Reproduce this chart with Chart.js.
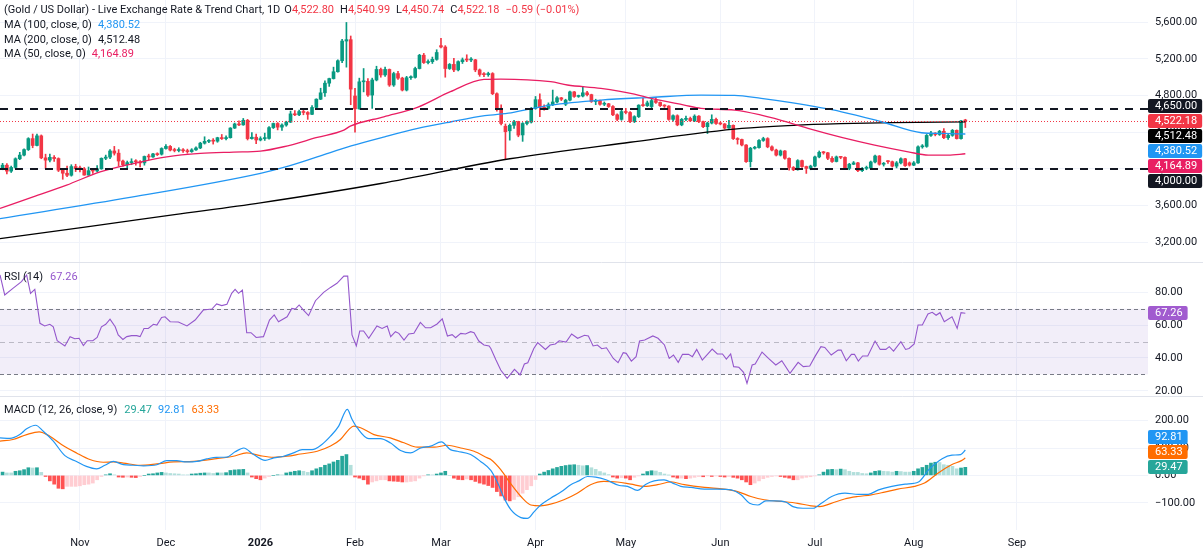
<!DOCTYPE html>
<html>
<head>
<meta charset="utf-8">
<script src="https://cdn.jsdelivr.net/npm/chart.js@4.4.1/dist/chart.umd.min.js"></script>
<style>
html,body{margin:0;padding:0;background:#fff;overflow:hidden}
#wrap{position:relative;width:1203px;height:552px;font-family:Roboto,"Noto Sans",sans-serif}
canvas{position:absolute;left:0}
.leg{position:absolute;left:4px;font-size:11px;line-height:14px;color:#131722;white-space:pre;z-index:5}
</style>
</head>
<body>
<div id="wrap">
<canvas id="c1" width="1203" height="262" style="top:0"></canvas>
<canvas id="c2" width="1203" height="134" style="top:262px"></canvas>
<canvas id="c3" width="1203" height="156" style="top:396px"></canvas>
<div class="leg" id="leg1" style="top:3px"></div>
<div class="leg" id="leg2" style="top:18px"></div>
<div class="leg" id="leg3" style="top:33px"></div>
<div class="leg" id="leg4" style="top:47px"></div>
<div class="leg" id="leg5" style="top:270px"></div>
<div class="leg" id="leg6" style="top:403px"></div>
</div>
<script>
// ---------------- DATA ----------------
const titleText = '(Gold / US Dollar) - Live Exchange Rate & Trend Chart, 1D';
const changeText = '\u22120.59 (\u22120.01%)';

const opens = [4010,4040,3975,4015,4110,4150,4210,4330,4255,4360,
4120,4095,4125,4112,3985,3952,3930,4025,4002,4000,
3932,3980,3977,4000,4115,4128,4195,4171,4085,4045,
4068,4078,4077,4065,4135,4130,4163,4160,4222,4245,
4205,4200,4208,4197,4188,4207,4228,4280,4300,4305,
4302,4340,4330,4340,4445,4490,4480,4530,4330,4345,
4315,4330,4332,4450,4495,4455,4478,4510,4600,4590,
4625,4615,4595,4670,4760,4830,4935,4985,5060,5180,
5395,5410,4795,4655,4950,4955,4805,4970,5085,5025,
5085,4915,5040,4990,4860,4995,4998,5095,5240,5160,
5170,5195,5345,5330,5095,5140,5080,5170,5190,5188,
5190,5080,5030,5028,5040,4820,4650,4465,4415,4475,
4515,4370,4495,4510,4660,4755,4670,4660,4700,4730,
4775,4705,4750,4840,4790,4795,4830,4810,4735,4745,
4705,4710,4680,4590,4540,4625,4615,4515,4570,4695,
4690,4680,4745,4725,4690,4685,4540,4580,4480,4540,
4550,4525,4575,4515,4460,4500,4540,4495,4490,4445,
4475,4330,4320,4260,4078,4225,4232,4310,4330,4240,
4205,4150,4195,4115,4015,3990,4090,4025,4005,4030,
4130,4180,4175,4115,4080,4130,4125,4005,4050,4065,
3980,4005,4008,4075,4140,4050,4085,4078,4030,4065,
4110,4065,4040,4065,4240,4245,4365,4390,4375,4410,
4340,4365,4420,4330,4522.80];

const highs = [4060,4058,4030,4120,4180,4218,4340,4380,4380,4370,
4160,4160,4145,4120,4000,4030,4045,4050,4030,4015,
4020,4000,4035,4120,4150,4210,4245,4210,4095,4085,
4110,4100,4090,4140,4160,4170,4175,4230,4265,4255,
4225,4230,4220,4215,4220,4240,4290,4350,4320,4330,
4345,4375,4360,4450,4500,4525,4550,4540,4395,4380,
4350,4390,4460,4500,4505,4490,4520,4630,4635,4640,
4645,4625,4690,4765,4880,4960,4990,5110,5190,5415,
5598,5450,4880,4990,5095,4985,4990,5120,5100,5110,
5090,5055,5065,5000,5010,5015,5110,5250,5260,5190,
5220,5300,5425,5345,5150,5205,5180,5210,5245,5215,
5195,5090,5050,5055,5050,4830,4700,4490,4490,4530,
4520,4505,4525,4670,4790,4820,4700,4720,4860,4790,
4780,4760,4850,4845,4805,4900,4845,4815,4760,4750,
4730,4715,4690,4600,4640,4660,4625,4580,4700,4770,
4740,4760,4780,4730,4700,4690,4590,4590,4550,4575,
4565,4590,4580,4520,4510,4590,4555,4510,4495,4530,
4480,4340,4325,4265,4235,4245,4320,4345,4340,4250,
4215,4205,4200,4120,4025,4100,4095,4030,4040,4140,
4195,4190,4180,4135,4140,4135,4130,4060,4080,4070,
4015,4030,4085,4150,4145,4070,4090,4085,4080,4120,
4115,4075,4080,4250,4265,4375,4410,4395,4420,4440,
4380,4430,4425,4530,4540.99];

const lows = [3990,3945,3960,4005,4100,4140,4200,4230,4250,4110,
4005,4075,4080,3970,3886,3915,3920,3970,3965,3930,
3930,3950,3965,3995,4100,4110,4150,4030,4030,4010,
4045,4040,4020,4040,4100,4125,4145,4150,4215,4195,
4185,4185,4180,4170,4180,4200,4220,4270,4285,4270,
4290,4320,4315,4335,4440,4470,4475,4315,4325,4275,
4305,4310,4325,4440,4425,4420,4465,4505,4580,4580,
4590,4540,4590,4660,4755,4790,4900,4980,5055,5160,
5110,4700,4400,4650,4840,4790,4660,4960,5000,5010,
4900,4900,4975,4850,4850,4975,4990,5090,5150,5145,
5150,5185,5320,5000,5085,5060,5070,5150,5170,5170,
5060,5010,5005,5010,4810,4630,4480,4102,4313,4440,
4350,4300,4480,4500,4650,4570,4640,4650,4690,4720,
4745,4690,4740,4780,4780,4785,4795,4725,4700,4695,
4690,4670,4580,4525,4530,4600,4505,4505,4560,4680,
4680,4660,4715,4680,4670,4530,4520,4470,4470,4525,
4515,4515,4505,4450,4385,4490,4485,4480,4435,4440,
4320,4270,4250,4070,4020,4215,4225,4300,4230,4195,
4140,4140,4105,3985,3980,3985,4015,3950,3990,4020,
4120,4160,4100,4070,4075,4110,3995,3990,4045,3970,
3970,3990,3995,4065,4040,4030,4060,4020,4010,4055,
4025,4030,4035,4060,4225,4235,4355,4360,4365,4330,
4320,4355,4325,4325,4450.74];

const closes = [4040,3975,4015,4110,4150,4210,4330,4255,4360,4120,
4095,4125,4112,3985,3952,3930,4025,4002,4000,3932,
3980,3977,4000,4115,4128,4195,4171,4085,4045,4068,
4078,4077,4065,4135,4130,4163,4155,4222,4245,4205,
4200,4208,4197,4188,4207,4228,4280,4300,4305,4302,
4340,4330,4340,4445,4490,4480,4530,4330,4345,4315,
4330,4332,4450,4495,4455,4478,4510,4600,4590,4625,
4615,4595,4670,4760,4830,4935,4985,5060,5180,5395,
5410,4870,4655,4950,4955,4805,4970,5085,5025,5085,
4915,5040,4990,4860,4995,4998,5095,5240,5160,5170,
5195,5270,5330,5095,5140,5080,5170,5190,5188,5190,
5080,5030,5028,5040,4820,4650,4495,4405,4475,4515,
4368,4495,4510,4660,4755,4670,4660,4700,4730,4775,
4760,4750,4840,4790,4795,4830,4810,4735,4745,4705,
4710,4680,4590,4540,4625,4615,4515,4570,4695,4690,
4720,4745,4725,4690,4685,4540,4580,4480,4540,4550,
4525,4575,4515,4460,4500,4540,4495,4490,4445,4475,
4330,4320,4260,4078,4225,4232,4310,4330,4240,4205,
4150,4195,4115,4015,3990,4090,4025,4005,4030,4130,
4180,4175,4115,4080,4130,4125,4005,4050,4065,3980,
4005,4008,4075,4140,4050,4055,4078,4030,4065,4110,
4035,4040,4065,4240,4245,4365,4390,4375,4410,4340,
4365,4420,4330,4522.80,4522.18];

// month ticks (bar index of first session of each month)
const monthTickIndex = [18, 38, 60, 82, 102, 124, 145, 167, 189, 212, 236];
const monthTickLabels = ['Nov','Dec','2026','Feb','Mar','Apr','May','Jun','Jul','Aug','Sep'];

// price-axis, RSI-axis and MACD-axis tick values
const priceTicks = [3200, 3600, 4000, 4400, 4800, 5200, 5600];
const rsiTicks = [20, 40, 60, 80];
const macdTicks = [-100, 0, 100, 200];

// moving averages: [bar index, value]
const ma50Pts = [[-0.6,3567],[7.1,3694],[14.9,3822],[22.7,3967],[30.4,4058],[38.2,4131],[46,4168],[53.7,4182],[60,4193],[65.4,4241],[73.2,4343],[79.4,4423],[80.9,4466],[88.7,4568],[96.5,4670],[104.2,4842],[112,4977],[115.9,4980],[127.5,4951],[131.4,4915],[139.2,4878],[147,4816],[150.9,4769],[158.6,4696],[162.5,4660],[170.3,4641],[176.5,4587],[179.6,4550],[187.4,4441],[195.2,4343],[202.9,4259],[210.7,4186],[215.4,4150],[220,4150],[224,4164.89]];
const ma100Pts = [[-0.6,3457],[30,3690],[60,3950],[65.4,4015],[73.2,4130],[81.1,4250],[88.9,4350],[96.6,4441],[104.4,4514],[112.2,4580],[118.3,4612],[127.5,4696],[139.2,4751],[150.9,4780],[162.5,4805],[170.3,4802],[176.5,4769],[183.5,4722],[195.2,4623],[204.5,4514],[213.8,4394],[218.5,4386],[224,4380.52]];
const ma200Pts = [[-0.6,3239],[20,3370],[40,3500],[60,3629],[88,3840],[118,4110],[146,4290],[172,4441],[184,4475],[195,4493],[207,4505],[224,4512.48]];

// RSI (14)
const rsiPts = [[-0.6,90.6],[0.5,78.4],[2.4,82.4],[4.4,86.5],[5.6,90.6],[6.5,79.4],[7.5,81.8],[8.7,61.1],[9.8,59.5],[11,60.5],[11.8,59],[12.7,50.5],[14.5,47.3],[15.7,53],[16.8,51.7],[17.8,52],[18.8,47.5],[19.7,50.5],[21,50.5],[22,52.5],[23,59],[24,60.5],[25,63.7],[26.2,59],[26.9,54],[28,51.3],[28.9,53],[30,53.6],[31.2,53.6],[32,53],[32.9,58],[33.9,58],[35.1,60.5],[35.9,60],[37,64.7],[37.8,65.1],[39,62.1],[40.9,61.9],[42.9,59.5],[44.8,63.1],[46.7,69.2],[48.7,69.8],[49.8,72.9],[51,71.9],[52.2,72.7],[53.3,79.4],[54.1,81.8],[54.9,79.4],[55.8,81.4],[56.8,55.4],[57.8,55.4],[59,52.5],[60.7,53],[62.1,63.1],[63.2,66.2],[64.2,62.1],[66.2,65.1],[67.3,70.2],[68.1,69.8],[69,72.3],[70,69.2],[71.2,65.8],[72.8,74.9],[74.7,80],[76.3,83],[77.8,85.5],[79.4,89.9],[80.3,89.9],[81.3,54],[82.3,47.3],[83.1,56.4],[84,56.4],[85.2,52],[87.1,59.5],[88.3,58],[89.5,59.5],[90.3,53],[91.4,56],[92.2,55],[93.4,50.9],[94.5,54.6],[95.7,55],[97.2,61.7],[98.4,58.4],[99.6,58.4],[101.1,60.7],[102.3,63.9],[103.5,53.4],[104.6,54.2],[105.4,52.3],[106.6,55],[107.7,54.6],[108.9,56],[109.7,55.4],[110.8,50.3],[112,47.9],[113.2,47.3],[113.6,45.8],[114.8,38.7],[115.9,32.6],[117.4,27.5],[119.1,33],[120.4,29.6],[121.4,36.3],[122.2,37.1],[123.6,45.8],[124.5,49.3],[126.3,45.2],[127.4,47.9],[128.6,48.5],[129.5,50.5],[131.1,49.7],[132.4,54.6],[133.8,52],[135.4,53.8],[136.3,53.4],[137.4,47.3],[138.4,47.9],[139.4,45.6],[140.5,46.2],[142.1,39.7],[143.2,37.1],[144.4,43.2],[145.1,42.8],[146.3,38.1],[147.4,40.8],[148.2,50.3],[149.4,50.9],[151.3,53.4],[152.5,52],[154,47.9],[155.1,39.7],[156.1,41.8],[157.2,37.3],[158.2,42.2],[159.6,42.2],[160.5,40.8],[161.5,45.2],[162.8,38.7],[165.1,45.4],[166.3,42.4],[167.5,42.4],[168.4,39.3],[169.4,42.4],[170.1,34.7],[171.3,34.3],[172.4,31.2],[173.2,24.5],[174.4,35.7],[175.1,36.3],[176.7,43.6],[178.2,39.7],[179.9,35.7],[181.3,38.3],[183.2,30.6],[185.1,37.3],[186.3,34.7],[187.8,35.1],[189,40.8],[190.4,46.9],[191.3,46.4],[192.8,41.8],[194.4,44.8],[195.1,44.8],[196.3,38.3],[197.5,42.2],[198.2,42.2],[199.1,38.1],[200.1,41.2],[201.3,41.2],[203,50.3],[204.2,45.2],[205.5,45.2],[206.3,46.9],[207.3,44.2],[209,49.9],[210.1,45.2],[210.9,45.8],[212.1,48.5],[213,60.1],[214,60.1],[215.3,66.8],[216.3,67.8],[217.2,66],[218.1,67.6],[219.1,62.1],[220.9,65.1],[222.1,58],[223,67.6],[224,67.26]];
const rsiLevels = [70, 50, 30];

// MACD (12, 26, close, 9)
const macdPts = [[-0.6,137],[1.7,135],[4,149],[5.6,170],[7.7,183],[9.4,162],[11.8,125],[14.5,72],[17.2,51],[19.5,33],[21.9,24],[23.8,37],[25.8,51],[28.1,39],[30.4,37],[32.8,35],[35.9,39],[38.2,54],[40.5,54],[42.8,49],[45.2,51],[47.5,60],[49.8,66],[52.2,67],[54.1,86],[56.1,100],[58.4,76],[61.1,55],[63.1,64],[65.4,70],[67.7,82],[69.7,94],[72,94],[74.3,113],[76.3,143],[78.2,180],[80.2,241],[81.3,205],[82.5,174],[85.2,134],[87.9,134],[90.2,119],[92.6,91],[94.9,82],[97.3,100],[99.6,107],[102.1,122],[104.2,94],[105.8,88],[108.9,76],[111.2,51],[113.6,18],[115.2,-28],[116.7,-83],[118.3,-126],[120.6,-154],[122.1,-157],[123.7,-132],[125.2,-108],[127.5,-83],[129.9,-61],[132.2,-34],[134.1,-20],[136.1,-4],[138,-6],[140.4,-16],[143.5,-37],[145.4,-40],[147.7,-55],[149.7,-32],[151.6,-20],[153.9,-16],[155.9,-28],[157.8,-40],[160.2,-44],[163.3,-50],[166.4,-50],[169.5,-53],[171.8,-71],[173.8,-102],[175.7,-108],[177.6,-93],[179.6,-93],[182.3,-98],[183.9,-114],[186.2,-120],[188.6,-120],[190.5,-102],[192.9,-77],[196,-65],[199.1,-69],[201.4,-69],[203.8,-53],[206.9,-40],[210,-32],[213.1,-24],[215.5,21],[218.6,61],[220.9,74],[222.9,76],[224,92.81]];
const signalPts = [[-0.6,125],[2.4,131],[5.6,149],[8.5,159],[11,143],[13.7,113],[17.2,82],[20.3,58],[23.4,48],[25.8,49],[28.1,45],[32,37],[35.9,42],[39.8,49],[44.4,51],[49.8,61],[53.7,70],[56.8,82],[59.9,72],[63.1,66],[66.2,70],[69.3,78],[73.2,88],[76.3,107],[78.6,131],[80.6,168],[81.7,180],[83.3,174],[86.4,149],[90.2,137],[93.4,119],[96.5,103],[100.4,103],[103.5,110],[106.6,100],[109.7,88],[112.8,64],[113.6,58],[115.9,21],[118.3,-32],[120.6,-77],[122.9,-108],[125.2,-111],[127.5,-105],[130.6,-89],[133.7,-65],[136.8,-34],[139.9,-22],[143,-24],[146.2,-32],[149.3,-40],[152.4,-34],[155.5,-24],[158.6,-34],[163.3,-44],[167.9,-50],[171,-59],[174.1,-77],[177.2,-89],[181.9,-96],[185,-102],[188.1,-111],[190.1,-114],[192.8,-102],[195.9,-86],[199,-77],[202.1,-71],[205.2,-61],[208.3,-50],[212.2,-40],[214.5,-28],[217.7,9],[220.8,39],[223.1,54],[224,63.33]];
const hist = [12,9,9,15,17,21,28,27,28,11,-4,
-20,-32,-47,-49,-40,-40,-40,-38,-34,-32,-28,-16,-4,
2,6,2,-6,-7,-6,-7,-8,-4,0,
5,6,9,11,9,7,6,5,2,2,
5,6,8,9,9,7,9,9,10,18,20,21,22,9,
-6,-12,-16,-10,-4,0,2,2,
9,12,15,17,15,11,17,24,29,37,42,49,55,70,76,37,
-6,-10,-16,-32,-24,-20,-16,-16,-20,-21,-22,-24,-24,-22,-20,-10,
-1,2,2,5,9,15,0,
-10,-15,-16,-13,-16,-22,-28,-32,-37,
-44,-59,-75,-90,-93,-88,-78,-65,-52,-38,-15,
5,12,18,24,29,33,36,38,39,37,35,36,28,22,14,9,3,
-6,-10,-8,-10,-16,-7,-2,
5,14,17,16,11,5,1,
-6,-10,-10,-12,-10,-7,-4,-5,-1,-4,-2,-4,-6,-4,-7,-10,-16,-24,-34,-28,-20,-12,-7,-4,-2,-4,-7,-10,-16,-16,-10,-7,-5,-2,
2,12,21,22,21,23,21,15,11,11,7,6,9,15,17,15,14,12,15,14,12,12,15,24,29,37,45,48,47,39,37,33,24,27,29.47];

const priceLevels = [4650, 4000];

// ---------------- STYLE / SETUP ----------------
const UP = '#089981', DOWN = '#F23645';
const GRID = '#F0F3FA';
const TXT = '#131722';
const XMIN = -0.6, XMAX = 266.5, AXW = 55;
const last = closes.length - 1;
const lastOf = p => p[p.length - 1][1];
const fmt2 = v => v.toLocaleString('en-US', {minimumFractionDigits: 2, maximumFractionDigits: 2}).replace('-', '\u2212');
const toXY = p => p.map(q => ({x: q[0], y: q[1]}));

Chart.defaults.font.family = 'Roboto';
Chart.defaults.font.size = 11;
Chart.defaults.color = TXT;

function xScale(showLabels) {
  return {
    type: 'linear', min: XMIN, max: XMAX, offset: false,
    grid: {color: GRID, drawTicks: false, offset: false},
    border: {display: false},
    afterBuildTicks: s => { s.ticks = monthTickIndex.map(v => ({value: v})); },
    ticks: {
      display: showLabels, autoSkip: false, maxRotation: 0, minRotation: 0, padding: 7, color: TXT,
      callback: v => monthTickLabels[monthTickIndex.indexOf(v)],
      font: c => ({size: 11, family: 'Roboto', weight: (c.index === 2) ? 'bold' : 'normal'})
    },
    afterFit: s => { s.height = showLabels ? 22 : 0; s.paddingLeft = 0; s.paddingRight = 0; }
  };
}
function yScale(min, max, tickVals) {
  return {
    type: 'linear', position: 'right', min: min, max: max, beginAtZero: false,
    grid: {color: GRID, drawTicks: false}, border: {display: false},
    afterBuildTicks: s => { s.ticks = tickVals.map(v => ({value: v})); },
    ticks: {autoSkip: false, padding: 7, color: TXT, callback: v => fmt2(v)},
    afterFit: s => { s.width = AXW; s.paddingTop = 0; s.paddingBottom = 0; }
  };
}
const baseOpts = {
  responsive: false, animation: false, events: [],
  layout: {padding: 0},
  plugins: {legend: {display: false}, tooltip: {enabled: false}}
};

function drawBoxes(chart, items, anchor) {
  const {ctx, chartArea} = chart;
  const scale = chart.scales.y;
  const STEP = 15, H = 14;
  const ys = items.map(it => scale.getPixelForValue(it.v));
  const order = items.map((_, i) => i).sort((a, b) => ys[a] - ys[b]);
  const p = order.indexOf(anchor);
  for (let k = p + 1; k < order.length; k++) { const a = order[k-1], b = order[k]; if (ys[b] < ys[a] + STEP) ys[b] = ys[a] + STEP; }
  for (let k = p - 1; k >= 0; k--) { const a = order[k+1], b = order[k]; if (ys[b] > ys[a] - STEP) ys[b] = ys[a] - STEP; }
  ctx.save();
  ctx.font = '11px Roboto';
  items.forEach((it, i) => {
    const txt = fmt2(it.v);
    const tx = chartArea.right + 7;
    const w = ctx.measureText(txt).width;
    const x0 = chartArea.right, bw = tx + w + 5 - x0;
    const y0 = Math.round(ys[i] - H / 2);
    ctx.fillStyle = it.bg;
    ctx.beginPath();
    if (ctx.roundRect) ctx.roundRect(x0, y0, bw, H, 2); else ctx.rect(x0, y0, bw, H);
    ctx.fill();
    ctx.fillStyle = '#ffffff';
    ctx.textBaseline = 'middle';
    ctx.textAlign = 'left';
    ctx.fillText(txt, tx, y0 + H / 2 + 0.5);
  });
  ctx.restore();
}
const sepPlugin = {
  id: 'sep',
  afterDraw(chart) {
    const c = chart.ctx; c.save(); c.strokeStyle = '#E0E3EB'; c.lineWidth = 1;
    c.beginPath(); c.moveTo(0, 0.5); c.lineTo(chart.width, 0.5); c.stroke(); c.restore();
  }
};

// ---------------- PRICE PANE ----------------
const candleColor = c => closes[c.dataIndex] >= opens[c.dataIndex] ? UP : DOWN;
const pricePlugin = {
  id: 'priceExtras',
  afterDatasetsDraw(chart) {
    const {ctx, chartArea: a, scales: {y}} = chart;
    ctx.save();
    ctx.strokeStyle = TXT; ctx.lineWidth = 2; ctx.setLineDash([8, 7]);
    priceLevels.forEach(v => {
      const py = Math.round(y.getPixelForValue(v));
      ctx.beginPath(); ctx.moveTo(a.left, py); ctx.lineTo(a.right, py); ctx.stroke();
    });
    ctx.strokeStyle = DOWN; ctx.lineWidth = 1; ctx.setLineDash([1, 2]);
    const cy = Math.round(y.getPixelForValue(closes[last])) + 0.5;
    ctx.beginPath(); ctx.moveTo(a.left, cy); ctx.lineTo(a.right, cy); ctx.stroke();
    ctx.restore();
  },
  afterDraw(chart) {
    drawBoxes(chart, [
      {v: priceLevels[0], bg: '#131722'},
      {v: closes[last], bg: DOWN},
      {v: lastOf(ma200Pts), bg: '#000000'},
      {v: lastOf(ma100Pts), bg: '#2196F3'},
      {v: lastOf(ma50Pts), bg: '#E91E63'},
      {v: priceLevels[1], bg: '#131722'}
    ], 1);
  }
};
new Chart(document.getElementById('c1'), {
  type: 'bar',
  data: {
    datasets: [
      {type: 'line', data: toXY(ma50Pts), borderColor: '#E91E63', borderWidth: 1.3, pointRadius: 0, cubicInterpolationMode: 'monotone', order: 1},
      {type: 'line', data: toXY(ma100Pts), borderColor: '#2196F3', borderWidth: 1.3, pointRadius: 0, cubicInterpolationMode: 'monotone', order: 1},
      {type: 'line', data: toXY(ma200Pts), borderColor: '#000000', borderWidth: 1.3, pointRadius: 0, cubicInterpolationMode: 'monotone', order: 1},
      {type: 'bar', data: closes.map((c, i) => ({x: i, y: [opens[i], c]})), backgroundColor: candleColor, barThickness: 3, minBarLength: 1, grouped: false, borderWidth: 0, order: 2},
      {type: 'bar', data: closes.map((c, i) => ({x: i, y: [lows[i], highs[i]]})), backgroundColor: candleColor, barThickness: 1, grouped: false, borderWidth: 0, order: 3}
    ]
  },
  options: Object.assign({}, baseOpts, {
    scales: {x: xScale(false), y: yScale(2983, 5843, priceTicks)}
  }),
  plugins: [pricePlugin]
});

// ---------------- RSI PANE ----------------
const rsiPlugin = {
  id: 'rsiExtras',
  beforeDatasetsDraw(chart) {
    const {ctx, chartArea: a, scales: {y}} = chart;
    const yt = y.getPixelForValue(rsiLevels[0]), yb = y.getPixelForValue(rsiLevels[2]);
    ctx.save();
    ctx.fillStyle = 'rgba(126,87,194,0.1)';
    ctx.fillRect(a.left, yt, a.right - a.left, yb - yt);
    ctx.lineWidth = 1;
    [0, 2].forEach(k => {
      const py = Math.round(y.getPixelForValue(rsiLevels[k])) + 0.5;
      ctx.strokeStyle = '#787B86'; ctx.setLineDash([4, 3]);
      ctx.beginPath(); ctx.moveTo(a.left, py); ctx.lineTo(a.right, py); ctx.stroke();
    });
    const pm = Math.round(y.getPixelForValue(rsiLevels[1])) + 0.5;
    ctx.strokeStyle = 'rgba(120,123,134,0.45)'; ctx.setLineDash([5, 4]);
    ctx.beginPath(); ctx.moveTo(a.left, pm); ctx.lineTo(a.right, pm); ctx.stroke();
    ctx.restore();
  },
  afterDraw(chart) { drawBoxes(chart, [{v: lastOf(rsiPts), bg: '#A15BCF'}], 0); }
};
new Chart(document.getElementById('c2'), {
  type: 'line',
  data: {datasets: [{data: toXY(rsiPts), borderColor: '#9457CC', borderWidth: 1.1, pointRadius: 0, tension: 0}]},
  options: Object.assign({}, baseOpts, {scales: {x: xScale(false), y: yScale(16.8, 98.5, rsiTicks)}}),
  plugins: [rsiPlugin, sepPlugin]
});

// ---------------- MACD PANE ----------------
function histColor(i) {
  const v = hist[i], p = i > 0 ? hist[i - 1] : 0;
  if (v >= 0) return v > p ? '#26A69A' : '#B2DFDB';
  return v < p ? '#FF5252' : '#FFCDD2';
}
const macdPlugin = {
  id: 'macdExtras',
  afterDraw(chart) {
    drawBoxes(chart, [
      {v: lastOf(macdPts), bg: '#2196F3'},
      {v: lastOf(signalPts), bg: '#FF6D00'},
      {v: hist[hist.length - 1], bg: '#26A69A'}
    ], 2);
  }
};
new Chart(document.getElementById('c3'), {
  type: 'bar',
  data: {
    datasets: [
      {type: 'line', data: toXY(macdPts), borderColor: '#2196F3', borderWidth: 1.2, pointRadius: 0, cubicInterpolationMode: 'monotone', order: 1},
      {type: 'line', data: toXY(signalPts), borderColor: '#FF6D00', borderWidth: 1.2, pointRadius: 0, cubicInterpolationMode: 'monotone', order: 1},
      {type: 'bar', data: hist.map((v, i) => ({x: i, y: v})), backgroundColor: c => histColor(c.dataIndex), barThickness: 3, grouped: false, borderWidth: 0, order: 2}
    ]
  },
  options: Object.assign({}, baseOpts, {scales: {x: xScale(true), y: yScale(-199.3, 289.8, macdTicks)}}),
  plugins: [macdPlugin, sepPlugin]
});

// ---------------- LEGENDS (text) ----------------
function addSpan(el, text, color, ml) {
  const s = document.createElement('span');
  s.textContent = text;
  if (color) s.style.color = color;
  if (ml) s.style.marginLeft = ml + 'px';
  el.appendChild(s);
}
const l1 = document.getElementById('leg1');
addSpan(l1, titleText);
addSpan(l1, 'O', TXT, 4); addSpan(l1, fmt2(opens[last]), DOWN);
addSpan(l1, 'H', TXT, 6); addSpan(l1, fmt2(highs[last]), DOWN);
addSpan(l1, 'L', TXT, 6); addSpan(l1, fmt2(lows[last]), DOWN);
addSpan(l1, 'C', TXT, 6); addSpan(l1, fmt2(closes[last]), DOWN);
addSpan(l1, changeText, DOWN, 6);
const l2 = document.getElementById('leg2');
addSpan(l2, 'MA (100, close, 0)'); addSpan(l2, fmt2(lastOf(ma100Pts)), '#2196F3', 6);
const l3 = document.getElementById('leg3');
addSpan(l3, 'MA (200, close, 0)'); addSpan(l3, fmt2(lastOf(ma200Pts)), TXT, 6);
const l4 = document.getElementById('leg4');
addSpan(l4, 'MA (50, close, 0)'); addSpan(l4, fmt2(lastOf(ma50Pts)), '#E91E63', 6);
const l5 = document.getElementById('leg5');
addSpan(l5, 'RSI (14)'); addSpan(l5, fmt2(lastOf(rsiPts)), '#9457CC', 7);
const l6 = document.getElementById('leg6');
addSpan(l6, 'MACD (12, 26, close, 9)'); addSpan(l6, fmt2(hist[hist.length - 1]), '#26A69A', 7);
addSpan(l6, fmt2(lastOf(macdPts)), '#2196F3', 6); addSpan(l6, fmt2(lastOf(signalPts)), '#FF6D00', 6);
</script>
</body>
</html>
